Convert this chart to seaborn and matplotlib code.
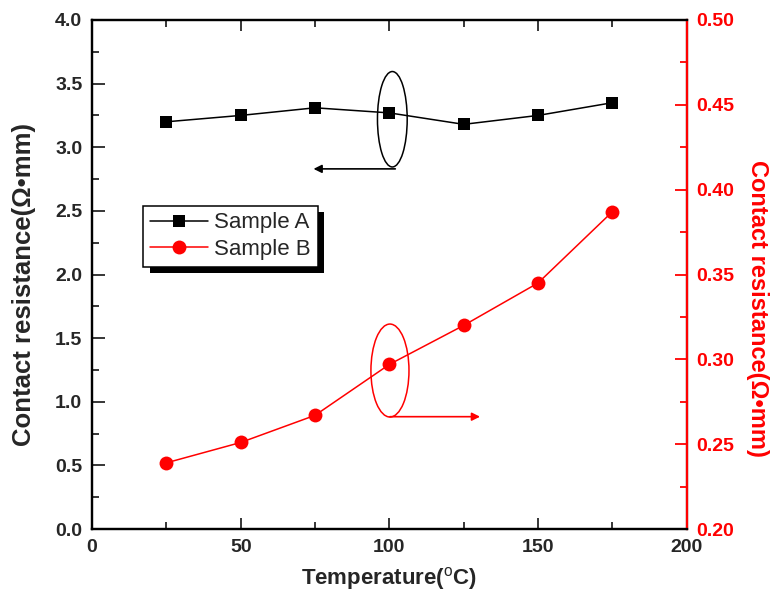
import numpy as np
import pandas as pd
import seaborn as sns
import matplotlib.pyplot as plt
import matplotlib.ticker as mticker
from matplotlib.patches import Ellipse, Rectangle
from matplotlib.transforms import IdentityTransform

# values
temps = [25, 50, 75, 100, 125, 150, 175]
sample_a = [3.20, 3.25, 3.31, 3.27, 3.18, 3.25, 3.35]          # left axis
sample_b = [0.239, 0.251, 0.267, 0.297, 0.320, 0.345, 0.387]   # right axis
x_ticks = [0, 50, 100, 150, 200]
left_ticks = [0.0, 0.5, 1.0, 1.5, 2.0, 2.5, 3.0, 3.5, 4.0]
right_ticks = [0.20, 0.25, 0.30, 0.35, 0.40, 0.45, 0.50]

df = pd.DataFrame({'temp': temps, 'A': sample_a, 'B': sample_b})

sns.set_style("ticks")
plt.rcParams['font.family'] = ['Liberation Sans', 'DejaVu Sans']
plt.rcParams['mathtext.fontset'] = 'custom'
plt.rcParams['mathtext.rm'] = 'Liberation Sans'

fig = plt.figure(figsize=(7.72, 5.95), dpi=100)
ax = fig.add_axes([0.1192, 0.1109, 0.7703, 0.8555])
ax2 = ax.twinx()

sns.lineplot(data=df, x='temp', y='A', ax=ax, color='black', marker='s',
             markersize=9, markeredgewidth=0, linewidth=1.1, label='Sample A', legend=False)
sns.lineplot(data=df, x='temp', y='B', ax=ax2, color='red', marker='o',
             markersize=10, markeredgewidth=0, linewidth=1.1, label='Sample B', legend=False)

ax.set_xlim(0, 200)
ax.set_ylim(0, 4.0)
ax2.set_ylim(0.20, 0.50)
ax.set_xticks(x_ticks)
ax.set_yticks(left_ticks)
ax2.set_yticks(right_ticks)
ax.xaxis.set_minor_locator(mticker.MultipleLocator(25))
ax.yaxis.set_minor_locator(mticker.MultipleLocator(0.25))
ax2.yaxis.set_minor_locator(mticker.MultipleLocator(0.025))
ax.yaxis.set_major_formatter(mticker.FormatStrFormatter('%.1f'))
ax2.yaxis.set_major_formatter(mticker.FormatStrFormatter('%.2f'))

for a in (ax, ax2):
    for s in a.spines.values():
        s.set_linewidth(1.6)
        s.set_color('black')
ax2.spines['right'].set_color('red')

ax.tick_params(axis='x', which='both', direction='in', top=True, width=1.3, pad=7,
               labelsize=14)
ax.tick_params(axis='x', which='major', length=8)
ax.tick_params(axis='x', which='minor', length=5)
ax.tick_params(axis='y', which='both', direction='in', right=False, width=1.3, pad=7,
               labelsize=14)
ax.tick_params(axis='y', which='major', length=9)
ax.tick_params(axis='y', which='minor', length=5)
ax2.tick_params(axis='y', which='both', direction='in', colors='red', width=1.3, pad=7,
                labelsize=14)
ax2.tick_params(axis='y', which='major', length=9)
ax2.tick_params(axis='y', which='minor', length=5)
for lab in ax.get_xticklabels() + ax.get_yticklabels() + ax2.get_yticklabels():
    lab.set_fontweight('bold')

ax.set_xlabel('Temperature($^{\\mathrm{o}}$C)', fontsize=16, fontweight='bold', labelpad=7)
ax.set_ylabel('Contact resistance(Ω•mm)', fontsize=18.5, fontweight='bold')
ax2.set_ylabel('Contact resistance(Ω•mm)', fontsize=17, fontweight='bold', color='red',
               rotation=270)
ax.yaxis.set_label_coords(-0.094, 0.48)
ax2.yaxis.set_label_coords(1.139, 0.434)

# ellipses + arrows pointing to the matching axis
ax.add_patch(Ellipse((101, 3.22), 10, 0.75, fill=False, edgecolor='black', lw=1.1))
ax.annotate('', xy=(74.5, 2.83), xytext=(102, 2.83),
            arrowprops=dict(arrowstyle='-|>', color='black', lw=1.2, mutation_scale=12,
                            shrinkA=0, shrinkB=0))
ax2.add_patch(Ellipse((100.2, 0.2934), 12.8, 0.0548, fill=False, edgecolor='red', lw=1.1))
ax2.annotate('', xy=(130.5, 0.2662), xytext=(100.2, 0.2662),
             arrowprops=dict(arrowstyle='-|>', color='red', lw=1.2, mutation_scale=12,
                             shrinkA=0, shrinkB=0))

handles = ax.get_lines()[:1] + ax2.get_lines()[:1]
leg = ax2.legend(handles, ['Sample A', 'Sample B'], loc='upper left',
                 bbox_to_anchor=(0.086, 0.635), fontsize=16, frameon=True,
                 fancybox=False, edgecolor='black', framealpha=1, handlelength=2.6,
                 borderpad=0.3, labelspacing=0.25, handletextpad=0.3, borderaxespad=0)
leg.get_frame().set_linewidth(1.1)

fig.canvas.draw()
bb = leg.get_frame().get_window_extent()
ax2.add_artist(Rectangle((bb.x0 + 6.5, bb.y0 - 6.5), bb.width, bb.height,
                         transform=IdentityTransform(), facecolor='black',
                         edgecolor='none', zorder=4.9))

fig.savefig('out.png', dpi=100)
